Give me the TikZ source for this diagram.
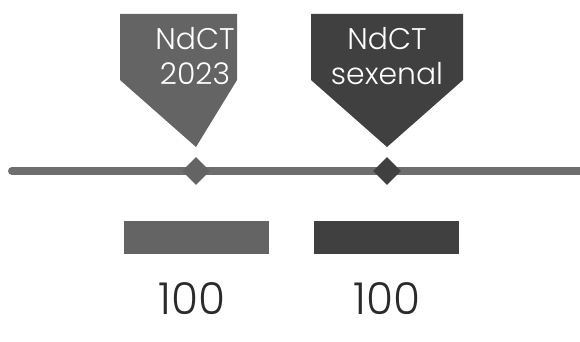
\documentclass[tikz,border=0pt]{standalone}
\usepackage{fontspec}
\setmainfont{Poppins Light}
\usepackage{xcolor}
\usetikzlibrary{shapes.geometric}
\definecolor{midgray}{HTML}{646464}
\definecolor{darkgray}{HTML}{404040}
\definecolor{linegray}{HTML}{6E6E6E}
\definecolor{numink}{HTML}{2A2A2A}
\tikzset{
  flag/.style={draw=none,line join=miter},
  flagtext/.style={text=white,align=center,font=\fontsize{17}{19.5}\selectfont,
                   inner sep=0pt},
  tick/.style={diamond,draw=none,inner sep=0pt,minimum width=0.56cm,
               minimum height=0.56cm},
  bar/.style={draw=none,minimum width=2.9cm,minimum height=0.66cm,inner sep=0pt},
  valtext/.style={text=numink,font=\fontsize{25}{28}\selectfont,inner sep=0pt},
  axis/.style={draw=linegray,line width=0.16cm,line cap=round}
}
\begin{document}
\begin{tikzpicture}[x=0.02cm,y=-0.02cm]
    \path[use as bounding box] (0,0) rectangle (580,341);

    % timeline
    \coordinate (tstart) at (12,171);
    \coordinate (tend) at (584,171);
    \draw[axis] (tstart) -- (tend);

    % flags
    \fill[flag,midgray] (120,14) -- (237,14) -- (237,80) -- (196,147)
      -- (120,80) -- cycle;
    \fill[flag,darkgray] (311,14) -- (463,14) -- (463,80) -- (387,147)
      -- (311,80) -- cycle;
    \node[flagtext] (flagA) at (195,56) {NdCT\\2023};
    \node[flagtext] (flagB) at (387,56) {NdCT\\sexenal};

    \node[tick,fill=midgray] (tickA) at (196,171) {};
    \node[tick,fill=darkgray] (tickB) at (387,171) {};

    % bars and values
    \node[bar,fill=midgray] (barA) at (196.5,237.5) {};
    \node[bar,fill=darkgray] (barB) at (386.5,237.5) {};
    \node[valtext] (valA) at (192,299) {100};
    \node[valtext] (valB) at (387,299) {100};
  \end{tikzpicture}
\end{document}
